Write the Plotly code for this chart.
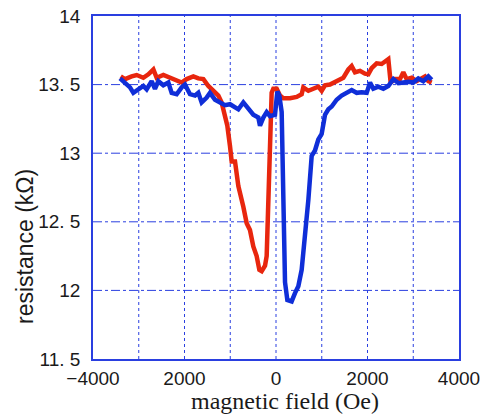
import plotly.graph_objects as go

red_x = [-3395,-3300,-3155,-3045,-2900,-2790,-2680,-2608,-2463,-2317,-2171,-2062,-1953,-1807,-1698,-1588,
         -1479,-1370,-1260,-1188,-1115,-1064,-1005,-969,-896,-823,-714,-641,-569,-496,-423,-364,-313,-240,
         -204,-168,-131,-95,-58,15,87,160,306,452,561,597,707,816,925,998,1071,1180,1290,1399,1472,1581,
         1654,1727,1836,1945,2018,2091,2200,2309,2382,2455,2506,2601,2710,2783,2856,2965,3074,3184,3257,3330,3403]
red_y = [13.56,13.54,13.56,13.57,13.55,13.575,13.61,13.55,13.57,13.55,13.53,13.515,13.54,13.56,13.545,13.54,
         13.49,13.455,13.42,13.37,13.27,13.2,13.05,12.94,12.94,12.76,12.61,12.49,12.44,12.32,12.25,12.15,12.14,12.18,
         12.25,12.66,13.1,13.44,13.47,13.47,13.42,13.40,13.40,13.41,13.43,13.48,13.455,13.47,13.485,13.455,13.495,13.50,
         13.52,13.54,13.55,13.61,13.635,13.59,13.60,13.58,13.575,13.62,13.655,13.65,13.67,13.685,13.515,13.54,13.54,
         13.59,13.54,13.55,13.525,13.545,13.56,13.525,13.515]

blue_x = [-3410,-3300,-3191,-3118,-3009,-2900,-2827,-2718,-2645,-2572,-2463,-2353,-2280,-2171,-2062,-1989,
          -1880,-1770,-1698,-1625,-1515,-1443,-1333,-1224,-1115,-1005,-933,-823,-714,-605,-496,-386,-350,-277,
          -204,-131,-22,29,73,124,146,175,197,248,342,415,488,561,634,707,780,852,925,998,1071,1144,1217,1326,
          1435,1545,1654,1763,1872,1982,2055,2127,2237,2346,2455,2565,2674,2783,2892,3001,3111,3220,3330,3403]
blue_y = [13.545,13.515,13.48,13.44,13.465,13.49,13.465,13.525,13.47,13.525,13.495,13.515,13.44,13.43,13.48,13.50,
          13.43,13.42,13.44,13.37,13.405,13.44,13.39,13.37,13.35,13.357,13.34,13.32,13.37,13.33,13.28,13.26,13.2,13.26,
          13.30,13.27,13.28,13.45,13.42,13.30,12.91,12.42,12.06,11.93,11.92,11.98,12.03,12.15,12.37,12.66,12.98,13.02,
          13.1,13.14,13.28,13.32,13.34,13.39,13.42,13.44,13.46,13.44,13.445,13.44,13.515,13.47,13.485,13.47,13.49,
          13.54,13.51,13.515,13.52,13.515,13.545,13.525,13.56,13.535]

x_tickvals = [-4000, -2000, 0, 2000, 4000]
x_ticktext = ["\u22124000", "2000", "0", "2000", "4000"]
y_tickvals = [14, 13.5, 13, 12.5, 12, 11.5]
y_ticktext = ["14", "13. 5", "13", "12. 5", "12", "11. 5"]

AX = "#2a3fe0"
GRID = "#2a3fe0"

L, R, T, B = 93, 27, 16, 58
W, H = 486, 417
pw, ph = W - L - R, H - T - B

fig = go.Figure()
fig.add_trace(go.Scatter(x=red_x, y=red_y, mode="lines",
                         line=dict(color="#e8260e", width=4.5), showlegend=False))
fig.add_trace(go.Scatter(x=blue_x, y=blue_y, mode="lines",
                         line=dict(color="#0f2ed8", width=4.5), showlegend=False))

for v in range(-3000, 4000, 1000):
    fig.add_shape(type="line", x0=v, x1=v, y0=11.5, y1=14, xref="x", yref="y",
                  line=dict(color=GRID, width=1, dash="dot"), layer="below")
for v in [13.5, 13, 12.5, 12]:
    fig.add_shape(type="line", x0=-4000, x1=4000, y0=v, y1=v, xref="x", yref="y",
                  line=dict(color=GRID, width=1, dash="dashdot"), layer="below")

fig.update_layout(
    width=W, height=H,
    margin=dict(l=L, r=R, t=T, b=B, autoexpand=False),
    paper_bgcolor="white", plot_bgcolor="white",
    font=dict(family="Liberation Sans, Arial, sans-serif", color="#1a1a1a"),
    xaxis=dict(range=[-4000, 4000], tickvals=x_tickvals, ticktext=x_ticktext,
               showgrid=False, zeroline=False, showline=True, mirror=True,
               linecolor=AX, linewidth=1.5, ticks="", tickfont=dict(size=19),
               ticklabelstandoff=1, automargin=False),
    yaxis=dict(range=[11.5, 14], tickvals=y_tickvals, ticktext=y_ticktext,
               showgrid=False, zeroline=False, showline=True, mirror=True,
               linecolor=AX, linewidth=1.5, ticks="", tickfont=dict(size=19),
               ticklabelstandoff=7, automargin=False),
    annotations=[
        dict(text="magnetic field (Oe)", x=(285 - L) / pw, y=1 - (401 - T) / ph,
             xref="paper", yref="paper", xanchor="center", yanchor="middle", showarrow=False,
             font=dict(family="Liberation Serif, serif", size=24, color="#1a1a1a")),
        dict(text="resistance (k\u03a9)", x=(25 - L) / pw, y=1 - (247 - T) / ph,
             xref="paper", yref="paper", xanchor="center", yanchor="middle",
             textangle=-90, showarrow=False,
             font=dict(size=23, color="#1a1a1a")),
    ],
)

fig.write_html("out.html", config={"displayModeBar": False},
               post_script="document.body.style.margin='0';")
